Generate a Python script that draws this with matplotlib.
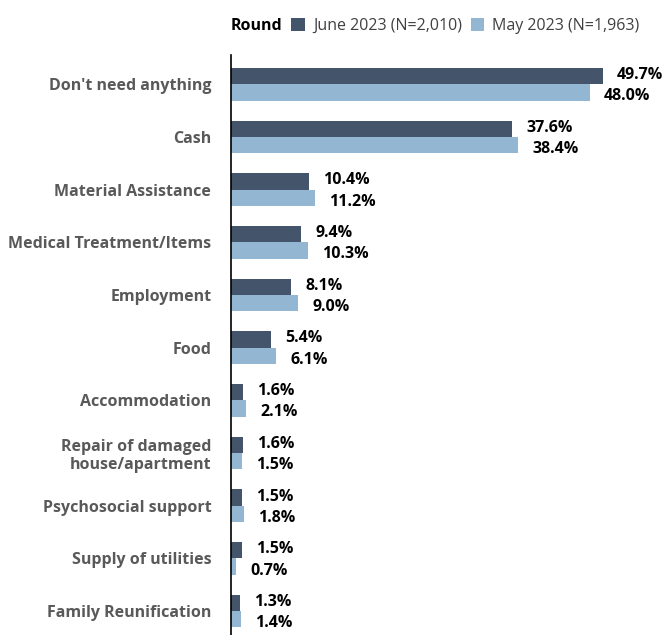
import matplotlib.pyplot as plt
from matplotlib.patches import Rectangle
import numpy as np

plt.rcParams['font.family'] = ['Open Sans', 'DejaVu Sans']

# Datos
categories = ["Don't need anything", "Cash", "Material Assistance",
              "Medical Treatment/Items", "Employment", "Food", "Accommodation",
              "Repair of damaged\nhouse/apartment", "Psychosocial support",
              "Supply of utilities", "Family Reunification"]
june_2023 = [49.7, 37.6, 10.4, 9.4, 8.1, 5.4, 1.6, 1.6, 1.5, 1.5, 1.3]
may_2023 = [48.0, 38.4, 11.2, 10.3, 9.0, 6.1, 2.1, 1.5, 1.8, 0.7, 1.4]
series_labels = ['June 2023 (N=2,010)', 'May 2023 (N=1,963)']

dark = '#44546A'
light = '#93B7D3'

fig = plt.figure(figsize=(6.65, 6.35), dpi=100)
ax = fig.add_axes([0.347, 0.0, 0.653, 0.913])

y = np.arange(len(categories))
h = 0.31
b1 = ax.barh(y - h / 2, june_2023, height=h, color=dark, label=series_labels[0])
b2 = ax.barh(y + h / 2, may_2023, height=h, color=light, label=series_labels[1])

# Etiquetas de valores (la oscura un poco arriba, la clara un poco abajo)
for bars, vals, dy in [(b1, june_2023, 1), (b2, may_2023, -4)]:
    for bar, v in zip(bars, vals):
        ax.annotate(f'{v:.1f}%', (bar.get_width(), bar.get_y() + bar.get_height() / 2),
                    xytext=(14, dy), textcoords='offset pixels',
                    va='center', ha='left', fontsize=11.5, fontweight='bold', color='black')

ax.set_xlim(0, 58)
ax.set_ylim(len(categories) - 0.545, -0.55)
ax.set_yticks(y)
ax.set_yticklabels(categories, fontsize=11.5, fontweight='bold', color='#595959')
ax.tick_params(axis='y', length=0, pad=14)
ax.set_xticks([])
for s in ['top', 'right', 'bottom']:
    ax.spines[s].set_visible(False)
ax.spines['left'].set_color('black')
ax.spines['left'].set_linewidth(1.2)

# Leyenda en línea con el título "Round"
blank = Rectangle((0, 0), 1, 1, alpha=0)
leg = fig.legend([blank, b1, b2], ['Round'] + series_labels, ncol=3,
                 loc='center left', bbox_to_anchor=(0.303, 0.959), frameon=False,
                 fontsize=11.5, handlelength=0.85, handleheight=0.9,
                 handletextpad=0.5, columnspacing=0.55, borderpad=0)
leg.get_texts()[0].set_fontweight('bold')
for t in leg.get_texts()[1:]:
    t.set_color('#404040')

fig.savefig('out.png', dpi=100)
